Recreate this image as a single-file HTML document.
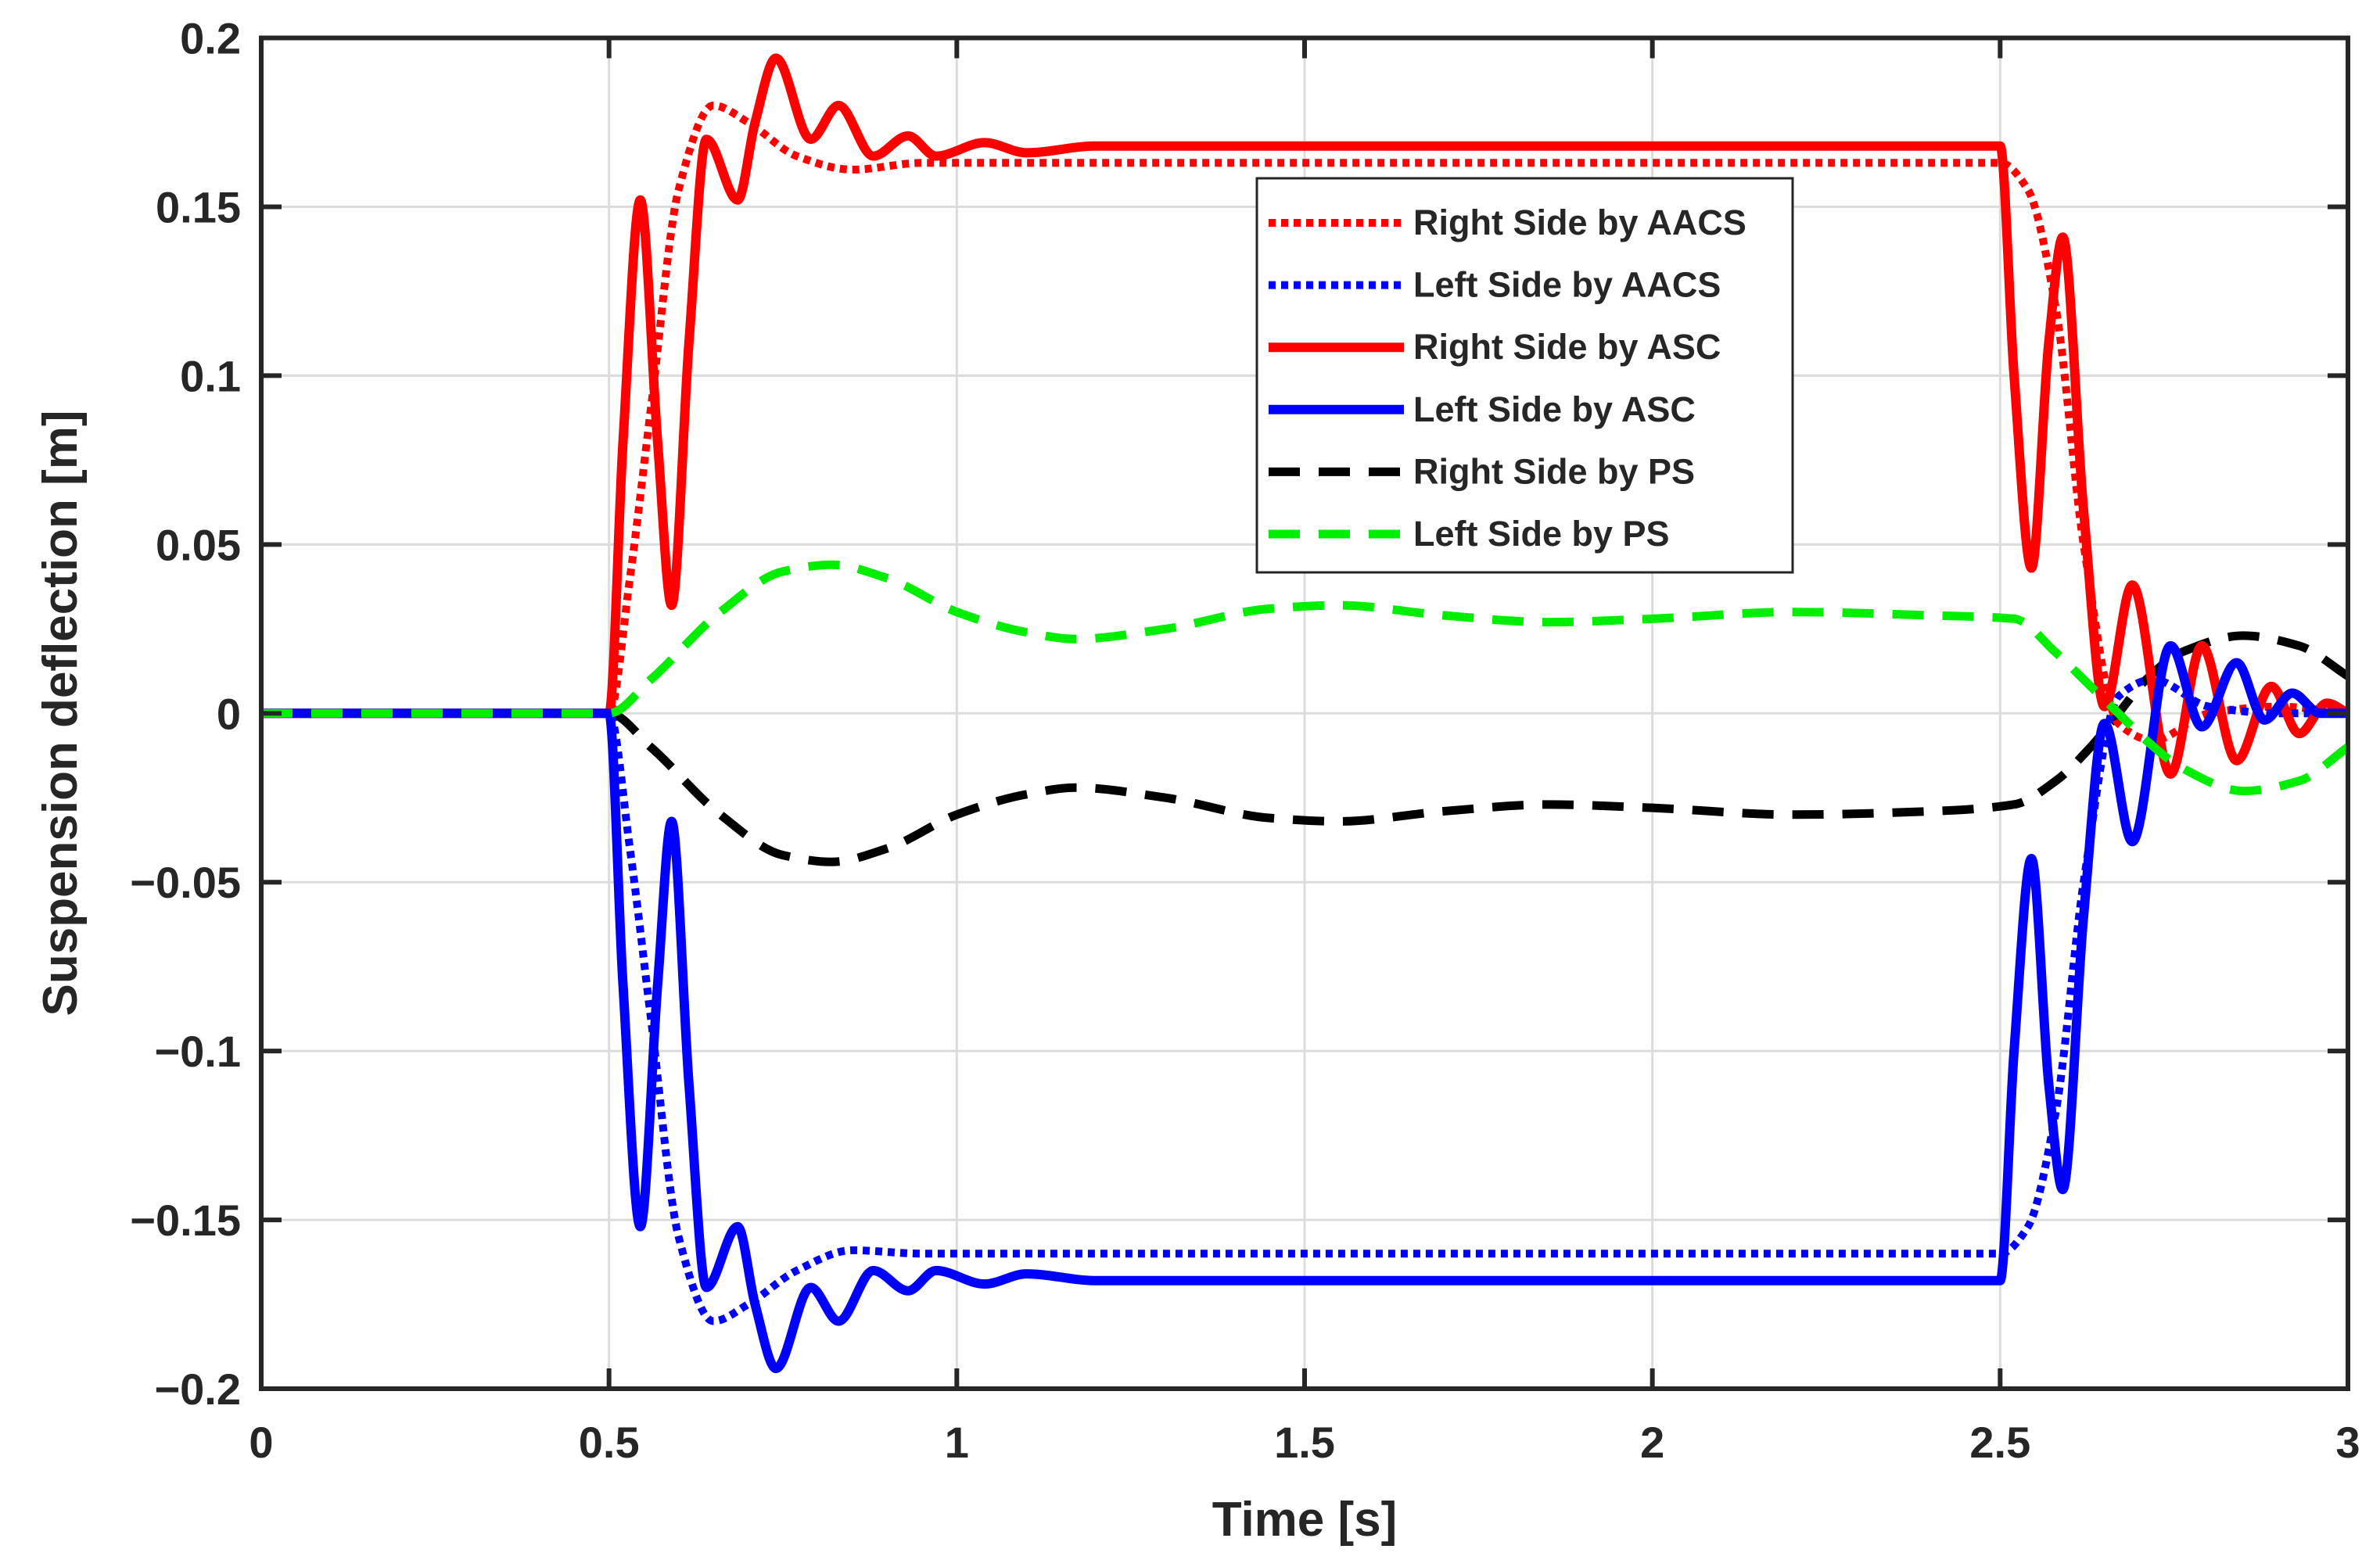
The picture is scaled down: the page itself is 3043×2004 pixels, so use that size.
<!DOCTYPE html>
<html><head><meta charset="utf-8">
<style>
html,body{margin:0;padding:0;background:#fff;}
svg{display:block;font-family:"Liberation Sans",Arial,sans-serif;font-weight:bold;}
</style></head>
<body>
<svg id="chart" width="3043" height="2004" viewBox="0 0 3043 2004" xmlns="http://www.w3.org/2000/svg">
<rect width="3043" height="2004" fill="#fff"/>
<g id="grid"></g>
<g id="series"></g>
<rect x="334" y="48.5" width="2668" height="1727.5" fill="none" stroke="#262626" stroke-width="6"/>
<g id="ticks"></g>
<text x="1668" y="1964" font-size="62" text-anchor="middle" fill="#262626">Time [s]</text>
<text transform="translate(98,912) rotate(-90)" font-size="62" text-anchor="middle" fill="#262626">Suspension deflection [m]</text>
<g id="legend"></g>
</svg>
<script>
const xTicks=[0,0.5,1,1.5,2,2.5,3];
const xTickLabels=["0","0.5","1","1.5","2","2.5","3"];
const yTicks=[0.2,0.15,0.1,0.05,0,-0.05,-0.1,-0.15,-0.2];
const yTickLabels=["0.2","0.15","0.1","0.05","0","\u22120.05","\u22120.1","\u22120.15","\u22120.2"];

const tAacsR=[0,0.5,0.53,0.56,0.6,0.65,0.7,0.77,0.85,0.95,1.2,2.5,2.54,2.58,2.62,2.67,2.72,2.8,2.9,3];
const vAacsR=[0,0,0.04,0.09,0.155,0.18,0.175,0.165,0.161,0.163,0.163,0.163,0.155,0.12,0.05,-0.003,-0.008,0.0,0.002,0];
const tAacsL=[0,0.5,0.53,0.56,0.6,0.65,0.7,0.77,0.85,0.95,1.2,2.5,2.54,2.58,2.62,2.67,2.72,2.8,2.9,3];
const vAacsL=[0,0,-0.04,-0.09,-0.155,-0.18,-0.175,-0.165,-0.159,-0.16,-0.16,-0.16,-0.152,-0.118,-0.05,0.005,0.01,0.002,0.0,0];
const tAscR=[0,0.5,0.52,0.545,0.57,0.59,0.615,0.64,0.685,0.71,0.74,0.79,0.83,0.88,0.93,0.97,1.04,1.1,1.2,2.5,2.52,2.545,2.57,2.59,2.62,2.65,2.69,2.745,2.79,2.84,2.89,2.93,2.97,3];
const vAscR=[0,0,0.08,0.152,0.08,0.032,0.11,0.17,0.152,0.175,0.194,0.17,0.18,0.165,0.171,0.165,0.169,0.166,0.168,0.168,0.1,0.043,0.11,0.141,0.06,0.002,0.038,-0.018,0.02,-0.014,0.008,-0.006,0.003,0];
const tAscL=[0,0.5,0.52,0.545,0.57,0.59,0.615,0.64,0.685,0.71,0.74,0.79,0.83,0.88,0.93,0.97,1.04,1.1,1.2,2.5,2.52,2.545,2.57,2.59,2.62,2.65,2.69,2.745,2.79,2.84,2.88,2.92,2.96,3];
const vAscL=[0,0,-0.08,-0.152,-0.08,-0.032,-0.11,-0.17,-0.152,-0.175,-0.194,-0.17,-0.18,-0.165,-0.171,-0.165,-0.169,-0.166,-0.168,-0.168,-0.1,-0.043,-0.11,-0.141,-0.06,-0.003,-0.038,0.02,-0.004,0.015,-0.002,0.006,0.0,0];
const tPsR=[0,0.5,0.56,0.66,0.75,0.82,0.9,1.0,1.1,1.17,1.3,1.45,1.55,1.7,1.85,2.0,2.2,2.4,2.52,2.58,2.63,2.67,2.71,2.76,2.85,2.93,3];
const vPsR=[0,0,-0.01,-0.03,-0.042,-0.044,-0.04,-0.03,-0.024,-0.022,-0.025,-0.031,-0.032,-0.029,-0.027,-0.028,-0.03,-0.029,-0.027,-0.02,-0.01,0.0,0.01,0.018,0.023,0.02,0.011];
const tPsL=[0,0.5,0.56,0.66,0.75,0.82,0.9,1.0,1.1,1.17,1.3,1.45,1.55,1.7,1.85,2.0,2.2,2.4,2.52,2.58,2.63,2.67,2.71,2.76,2.85,2.93,3];
const vPsL=[0,0,0.01,0.03,0.042,0.044,0.04,0.03,0.024,0.022,0.025,0.031,0.032,0.029,0.027,0.028,0.03,0.029,0.028,0.018,0.008,0.0,-0.008,-0.016,-0.023,-0.02,-0.01];

const legendLabels=["Right Side by AACS","Left Side by AACS","Right Side by ASC","Left Side by ASC","Right Side by PS","Left Side by PS"];

const NS="http://www.w3.org/2000/svg";
const X0=334,X1=3002,Y0=1776,Y1=48.5;
function xs(t){return X0+(t-0)/(3-0)*(X1-X0);}
function ys(v){return Y0-(v+0.2)/0.4*(Y0-Y1);}
function mk(tag,attrs,parent){const e=document.createElementNS(NS,tag);for(const k in attrs)e.setAttribute(k,attrs[k]);parent.appendChild(e);return e;}

const grid=document.getElementById('grid');
const ticks=document.getElementById('ticks');
xTicks.forEach((t,i)=>{
  const g=mk('line',{x1:xs(t),x2:xs(t),y1:Y1,y2:Y0,stroke:'#dcdcdc','stroke-width':3},grid);
  
  
  const a=mk('line',{x1:xs(t),x2:xs(t),y1:Y0,y2:Y0-26,stroke:'#262626','stroke-width':6},ticks);
  
  
  const b=mk('line',{x1:xs(t),x2:xs(t),y1:Y1,y2:Y1+26,stroke:'#262626','stroke-width':6},ticks);
  
  
  const tx=mk('text',{x:xs(t),y:1864,'font-size':56,'text-anchor':'middle',fill:'#262626'},ticks);
  tx.textContent=xTickLabels[i];
  
  
});
yTicks.forEach((v,i)=>{
  const g=mk('line',{x1:X0,x2:X1,y1:ys(v),y2:ys(v),stroke:'#dcdcdc','stroke-width':3},grid);
  
  
  const a=mk('line',{x1:X0,x2:X0+26,y1:ys(v),y2:ys(v),stroke:'#262626','stroke-width':6},ticks);
  
  
  const b=mk('line',{x1:X1,x2:X1-26,y1:ys(v),y2:ys(v),stroke:'#262626','stroke-width':6},ticks);
  
  
  const tx=mk('text',{x:308,y:ys(v)+20,'font-size':56,'text-anchor':'end',fill:'#262626'},ticks);
  tx.textContent=yTickLabels[i];
  
  
});

// monotone cubic (Fritsch-Carlson) in pixel space
function pathFrom(ts,vs){
  const x=ts.map(xs), y=vs.map(ys), n=x.length;
  const d=[],m=new Array(n);
  for(let i=0;i<n-1;i++) d.push((y[i+1]-y[i])/(x[i+1]-x[i]));
  m[0]=d[0]; m[n-1]=d[n-2];
  for(let i=1;i<n-1;i++){
    if(d[i-1]*d[i]<=0) m[i]=0;
    else { const w1=2*(x[i+1]-x[i])+(x[i]-x[i-1]), w2=(x[i+1]-x[i])+2*(x[i]-x[i-1]);
      m[i]=(w1+w2)/(w1/d[i-1]+w2/d[i]); }
  }
  let s='M'+x[0]+','+y[0];
  for(let i=0;i<n-1;i++){
    const h=(x[i+1]-x[i])/3;
    s+=' C'+(x[i]+h)+','+(y[i]+m[i]*h)+' '+(x[i+1]-h)+','+(y[i+1]-m[i+1]*h)+' '+x[i+1]+','+y[i+1];
  }
  return s;
}
const styles=[
 {ts:tAacsR,vs:vAacsR,c:'#ff0000',w:10,dash:'9 7',name:'right-aacs-line'},
 {ts:tAacsL,vs:vAacsL,c:'#0000ff',w:10,dash:'9 7',name:'left-aacs-line'},
 {ts:tAscR,vs:vAscR,c:'#ff0000',w:12,dash:'',name:'right-asc-line'},
 {ts:tAscL,vs:vAscL,c:'#0000ff',w:12,dash:'',name:'left-asc-line'},
 {ts:tPsR,vs:vPsR,c:'#000000',w:11,dash:'40 24',name:'right-ps-line'},
 {ts:tPsL,vs:vPsL,c:'#00ee00',w:11,dash:'40 24',name:'left-ps-line'}
];
const series=document.getElementById('series');
const order=[4,0,1,2,3,5];
order.forEach(i=>{
  const s=styles[i];
  const el=mk('path',{d:pathFrom(s.ts,s.vs),fill:'none',stroke:s.c,'stroke-width':s.w,'stroke-dasharray':s.dash,'stroke-linejoin':'round'},series);
  
  
});

const legend=document.getElementById('legend');
const box=mk('rect',{x:1607,y:228,width:685,height:504,fill:'#fff',stroke:'#262626','stroke-width':3},legend);


legendLabels.forEach((lab,i)=>{
  const s=styles[i];
  const y=285+i*79.6;
  const ln=mk('line',{x1:1622,x2:1795,y1:y,y2:y,stroke:s.c,'stroke-width':s.w,'stroke-dasharray':s.dash},legend);
  
  
  const tx=mk('text',{x:1807,y:y+15,'font-size':45,fill:'#262626'},legend);
  tx.textContent=lab;
  
  
});
</script>
</body></html>
